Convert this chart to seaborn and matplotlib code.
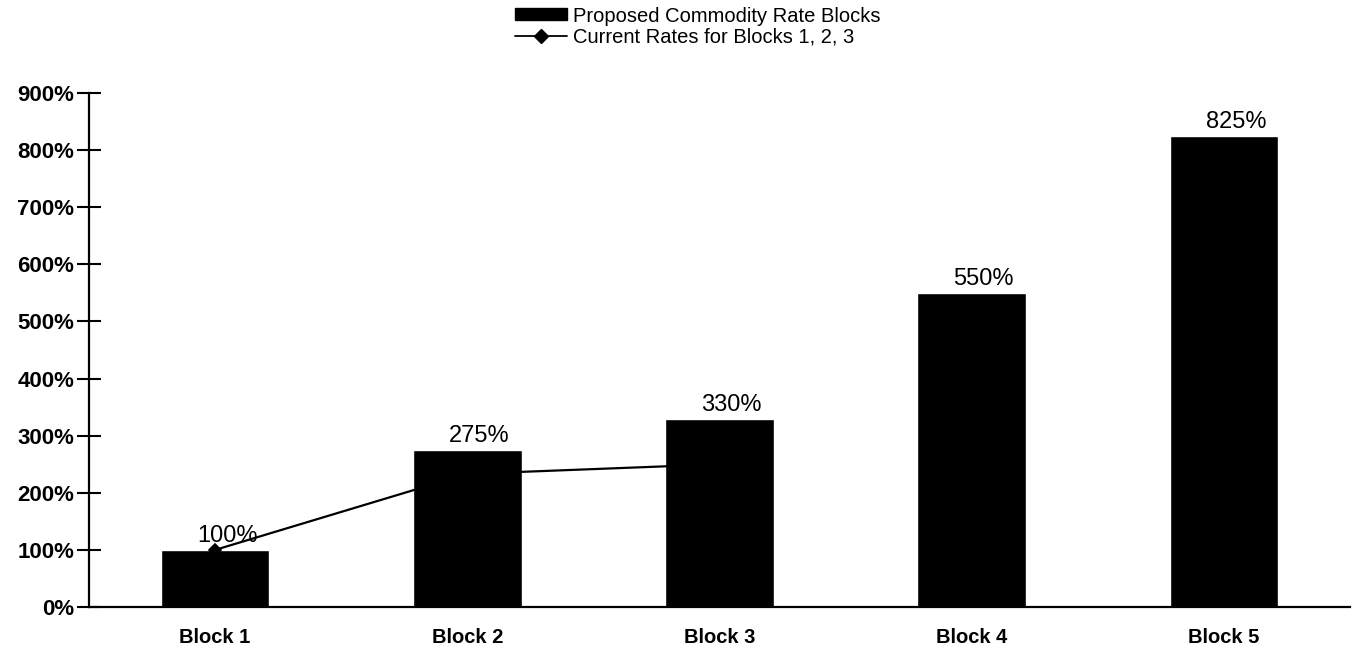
"""
Proposed commodity rate blocks vs current rates.
"""
import pandas as pd
import matplotlib.pyplot as plt
import seaborn as sns
from matplotlib.patches import Patch
from matplotlib.lines import Line2D

blocks = ['Block 1', 'Block 2', 'Block 3', 'Block 4', 'Block 5']
proposed = [100, 275, 330, 550, 825]
current_blocks = ['Block 1', 'Block 2', 'Block 3']
current = [100, 233, 250]
y_ticks = [0, 100, 200, 300, 400, 500, 600, 700, 800, 900]


def plot():
    sns.set_style('white')
    plt.rcParams['font.family'] = ['Liberation Sans', 'DejaVu Sans']
    plt.rcParams['text.color'] = 'black'
    plt.rcParams['xtick.color'] = 'black'
    plt.rcParams['ytick.color'] = 'black'

    fig = plt.figure(figsize=(13.56, 6.53), dpi=100)
    ax = fig.add_axes([0.0656, 0.0704, 0.93, 0.7872])

    bars = pd.DataFrame({'block': blocks, 'value': proposed})
    line = pd.DataFrame({'block': current_blocks, 'value': current})

    sns.barplot(data=bars, x='block', y='value', order=blocks,
                color='black', width=0.43, saturation=1, ax=ax, zorder=2)
    sns.pointplot(data=line, x='block', y='value', order=blocks,
                  color='black', markers='D', markersize=6, linewidth=1.6,
                  ax=ax, zorder=3)

    for i, v in enumerate(proposed):
        ax.text(i + 0.048, v + 5, '{}%'.format(v), ha='center', va='bottom',
                fontsize=17)

    ax.set_xlim(-0.5, 4.5)
    ax.set_ylim(0, 900)
    ax.set_yticks(y_ticks)
    ax.set_yticklabels(['{}%'.format(t) for t in y_ticks],
                       fontsize=16, fontweight='bold')
    ax.set_xticks(range(len(blocks)))
    ax.set_xticklabels(blocks, fontsize=14.5, fontweight='bold')
    ax.set_xticks([0.5, 1.5, 2.5, 3.5, 4.5], minor=True)
    ax.tick_params(axis='x', which='major', length=0, pad=15)
    ax.tick_params(axis='x', which='minor', length=17, width=1.5,
                   direction='inout')
    ax.tick_params(axis='y', length=17, width=1.5, direction='inout',
                   pad=2, left=True)
    ax.set_xlabel('')
    ax.set_ylabel('')

    for side in ['top', 'right']:
        ax.spines[side].set_visible(False)
    for side in ['left', 'bottom']:
        ax.spines[side].set_color('black')
        ax.spines[side].set_linewidth(1.6)

    handles = [
        Patch(facecolor='black', edgecolor='black',
              label='Proposed Commodity Rate Blocks'),
        Line2D([0], [0], color='black', marker='D', markersize=7,
               linewidth=1.3, label='Current Rates for Blocks 1, 2, 3'),
    ]
    fig.legend(handles=handles, loc='upper left',
               bbox_to_anchor=(0.3798, 0.99), frameon=False, fontsize=14.5,
               handlelength=2.6, handleheight=0.55, labelspacing=0.12,
               handletextpad=0.3, borderpad=0, borderaxespad=0)

    plt.savefig('out.png', dpi=100)


if __name__ == '__main__':
    plot()
